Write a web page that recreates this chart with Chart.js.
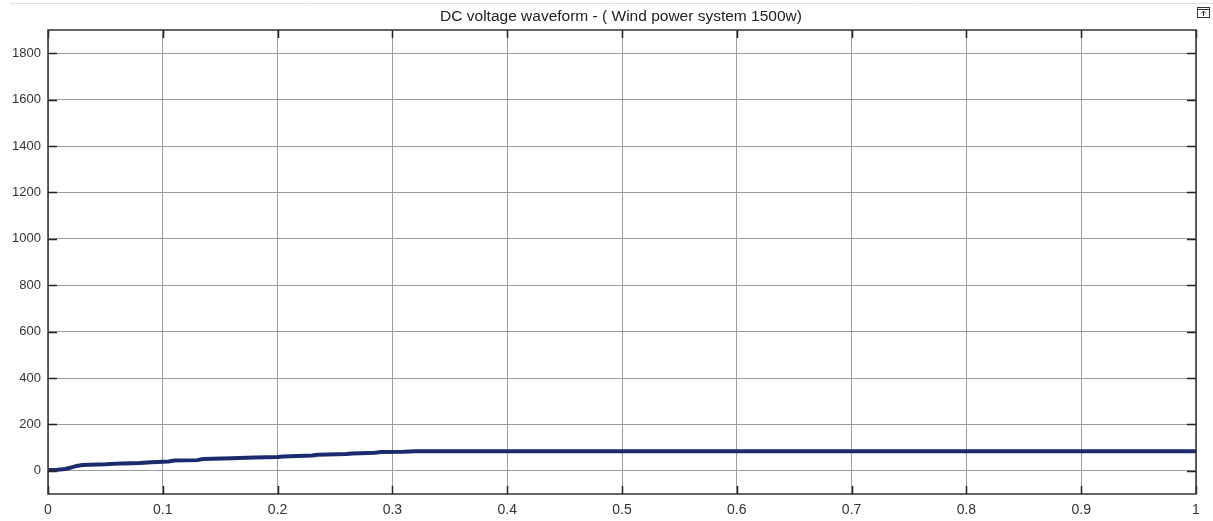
<!DOCTYPE html>
<html>
<head>
<meta charset="utf-8">
<script src="https://cdn.jsdelivr.net/npm/chart.js@4"></script>
<style>
  html, body { margin: 0; padding: 0; background: #fff; }
  #wrap { width: 1213px; height: 521px; position: relative; }
</style>
</head>
<body>
<div id="wrap"><canvas id="myChart" width="1213" height="521"></canvas></div>
<script>
// DATA
var time = [0, 0.008, 0.015, 0.02, 0.025, 0.03, 0.05, 0.065, 0.08, 0.09, 0.1, 0.105, 0.11, 0.13, 0.135,
    0.16, 0.18, 0.2, 0.205, 0.23, 0.235, 0.26, 0.265, 0.285, 0.29, 0.31, 0.32, 0.4, 0.6, 0.8, 1];
var voltage = [3, 5, 8, 14, 21, 25, 28, 32, 34, 37, 39, 40, 44, 46, 51,
    54, 57, 60, 62, 66, 69, 72, 75, 78, 81, 82, 84, 84, 84, 84, 84];
var xTicks = [0, 0.1, 0.2, 0.3, 0.4, 0.5, 0.6, 0.7, 0.8, 0.9, 1];
var yTicks = [0, 200, 400, 600, 800, 1000, 1200, 1400, 1600, 1800];
var titleText = 'DC voltage waveform - ( Wind power system 1500w)';

var points = [];
for (var i = 0; i < time.length; i++) {
    points.push({ x: time[i], y: voltage[i] });
}

// title, inward tick marks, box around plot, little icon
var scopeFrame = {
    id: 'scopeFrame',
    afterDraw: function (chart) {
        var c = chart.ctx;
        var a = chart.chartArea;
        var sx = chart.scales.x, sy = chart.scales.y;
        c.save();

        // title (scope window title bar is centred a bit right of the plot)
        c.fillStyle = '#222';
        c.font = '15.5px Arial, "Liberation Sans", sans-serif';
        c.textAlign = 'center';
        c.textBaseline = 'alphabetic';
        c.fillText(titleText, 621, 21);

        c.strokeStyle = '#222';
        c.lineWidth = 1.5;
        c.beginPath();
        xTicks.forEach(function (v) {
            var px = Math.round(sx.getPixelForValue(v)) + 0.5;
            c.moveTo(px, a.top); c.lineTo(px, a.top + 8);
            c.moveTo(px, a.bottom); c.lineTo(px, a.bottom - 8);
        });
        yTicks.forEach(function (v) {
            var py = Math.round(sy.getPixelForValue(v)) + 0.5;
            c.moveTo(a.left, py); c.lineTo(a.left + 9, py);
            c.moveTo(a.right, py); c.lineTo(a.right - 9, py);
        });
        c.stroke();
        c.strokeStyle = '#333';
        c.lineWidth = 1.5;
        c.strokeRect(a.left, a.top, a.right - a.left, a.bottom - a.top);

        // thin top rule
        c.strokeStyle = '#e2e2e2';
        c.lineWidth = 1;
        c.beginPath();
        c.moveTo(10, 3.5); c.lineTo(1213, 3.5);
        c.stroke();

        // undock icon
        c.strokeStyle = '#333';
        c.strokeRect(1197.5, 7.5, 12, 10);
        c.beginPath();
        c.moveTo(1197.5, 9.5); c.lineTo(1209.5, 9.5);
        c.moveTo(1203.5, 16); c.lineTo(1203.5, 11);
        c.moveTo(1201, 13.5); c.lineTo(1203.5, 11); c.lineTo(1206, 13.5);
        c.stroke();
        c.restore();
    }
};

var ctx = document.getElementById('myChart').getContext('2d');
var myChart = new Chart(ctx, {
    type: 'line',
    data: {
        datasets: [{
            label: 'Vdc',
            data: points,
            borderColor: '#1b2b6e',
            borderWidth: 4,
            pointRadius: 0,
            tension: 0,
            fill: false
        }]
    },
    options: {
        responsive: false,
        animation: false,
        layout: { padding: { left: 0, right: 17, top: 30, bottom: 0 } },
        plugins: {
            legend: { display: false },
            tooltip: { enabled: false },
            title: { display: false }
        },
        scales: {
            x: {
                type: 'linear',
                min: 0,
                max: 1,
                afterBuildTicks: function (s) { s.ticks = xTicks.map(function (v) { return { value: v }; }); },
                afterFit: function (s) { s.height = 27; },
                ticks: {
                    color: '#333',
                    padding: 8,
                    maxRotation: 0,
                    font: { family: 'Arial, "Liberation Sans", sans-serif', size: 14 },
                    callback: function (v) { return String(v); }
                },
                grid: { color: '#9c9c9c', lineWidth: 1, drawTicks: false },
                border: { display: false }
            },
            y: {
                min: -100,
                max: 1900,
                afterBuildTicks: function (s) { s.ticks = yTicks.map(function (v) { return { value: v }; }); },
                afterFit: function (s) { s.width = 48; },
                ticks: {
                    color: '#333',
                    padding: 7,
                    font: { family: 'Arial, "Liberation Sans", sans-serif', size: 13 },
                    callback: function (v) { return String(v); }
                },
                grid: { color: '#9c9c9c', lineWidth: 1, drawTicks: false },
                border: { display: false }
            }
        }
    },
    plugins: [scopeFrame]
});
</script>
</body>
</html>
